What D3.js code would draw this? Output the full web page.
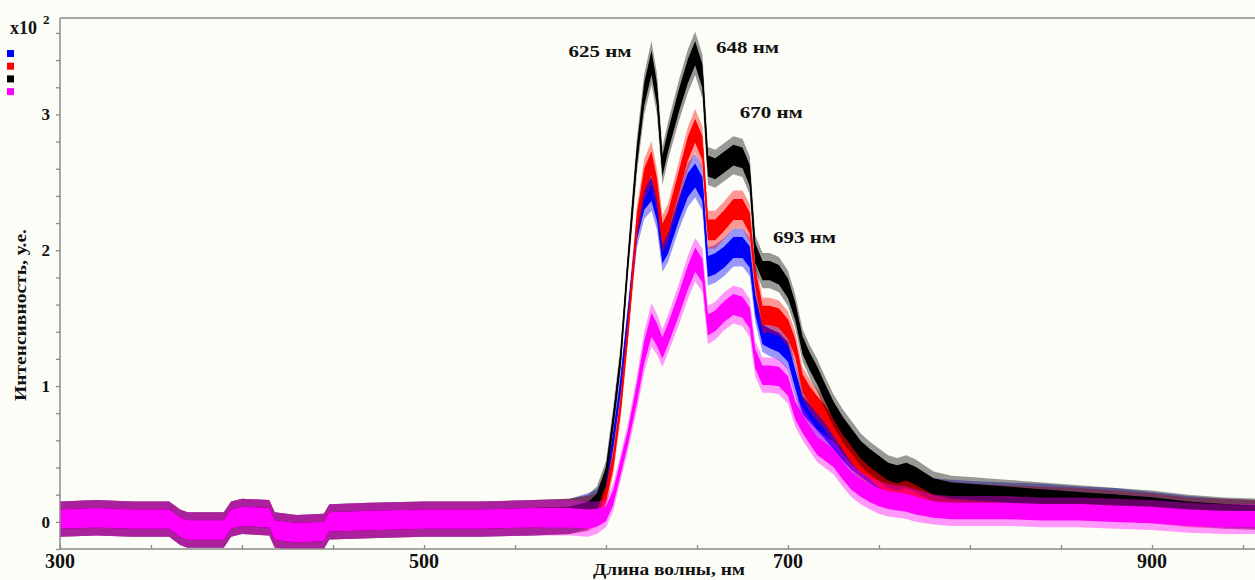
<!DOCTYPE html>
<html><head><meta charset="utf-8">
<script src="https://cdn.jsdelivr.net/npm/d3@7/dist/d3.min.js"></script>
<style>
html,body{margin:0;padding:0;background:#fdfdf7;}
svg{display:block;}
text{font-family:"Liberation Serif","Times New Roman",Times,serif;font-weight:bold;fill:#111;}
</style></head>
<body>
<svg id="chart" width="1255" height="580"></svg>
<script>
// Wavelengths (nm)
const wavelengths = [300,320,340,360,366,370,390,394,400,415,418,430,445,448,470,500,530,560,580,
  590,595,600,604,608,612,617,621,625,628,631,634,640,645,649,653,656,660,665,670,
  675,679,682,686,690,695,700,704,708,712,716,720,725,730,735,740,745,750,755,760,
  765,770,780,790,800,820,840,860,880,900,920,940,960];

// Intensity (x10^2, a.u.) – series
const blueValues = [0.02,0.03,0.02,0.02,-0.04,-0.06,-0.06,0.02,0.04,0.03,-0.06,-0.08,-0.07,0.0,0.01,0.02,0.02,0.03,0.04,
  0.08,0.12,0.28,0.6,1.0,1.5,2.15,2.38,2.45,2.3,1.98,2.05,2.3,2.48,2.55,2.45,1.88,1.9,1.95,2.02,
  2.02,1.95,1.6,1.38,1.35,1.32,1.25,1.05,0.86,0.8,0.74,0.68,0.6,0.52,0.45,0.4,0.35,0.3,0.27,0.26,
  0.27,0.25,0.21,0.2,0.19,0.18,0.17,0.15,0.14,0.11,0.08,0.06,0.05];
const redValues = [0.02,0.03,0.02,0.02,-0.04,-0.06,-0.06,0.02,0.04,0.03,-0.06,-0.08,-0.07,0.0,0.01,0.02,0.02,0.03,0.04,
  0.06,0.09,0.2,0.45,0.85,1.4,2.2,2.52,2.64,2.45,2.12,2.2,2.5,2.75,2.88,2.75,2.15,2.15,2.22,2.3,
  2.3,2.2,1.8,1.52,1.52,1.5,1.42,1.28,1.02,0.93,0.86,0.8,0.7,0.6,0.5,0.43,0.38,0.32,0.27,0.24,
  0.25,0.24,0.19,0.18,0.17,0.16,0.15,0.14,0.12,0.1,0.07,0.06,0.05];
const blackValues = [0.02,0.03,0.02,0.02,-0.04,-0.06,-0.06,0.02,0.04,0.03,-0.06,-0.08,-0.07,0.0,0.01,0.02,0.02,0.03,0.04,
  0.07,0.14,0.35,0.75,1.2,1.9,2.7,3.15,3.38,3.15,2.62,2.8,3.1,3.32,3.45,3.28,2.62,2.6,2.65,2.7,
  2.68,2.55,1.98,1.85,1.85,1.82,1.72,1.55,1.3,1.18,1.08,0.96,0.82,0.71,0.62,0.53,0.47,0.42,0.37,0.35,
  0.37,0.34,0.26,0.23,0.22,0.2,0.18,0.16,0.14,0.12,0.09,0.07,0.06];
const magentaValues = [0.02,0.03,0.02,0.02,-0.04,-0.06,-0.06,0.02,0.04,0.03,-0.06,-0.08,-0.07,0.0,0.01,0.02,0.02,0.03,0.03,
  0.02,0.03,0.06,0.18,0.4,0.62,0.95,1.25,1.45,1.38,1.28,1.38,1.6,1.8,1.93,1.85,1.45,1.48,1.55,1.6,
  1.58,1.5,1.2,1.08,1.08,1.07,1.0,0.82,0.72,0.64,0.56,0.52,0.47,0.38,0.3,0.25,0.21,0.18,0.16,0.15,
  0.14,0.12,0.09,0.08,0.08,0.08,0.07,0.07,0.06,0.05,0.03,0.02,0.02];
// Noise half-width of the traces (same units)
const noiseValues = [0.13,0.13,0.13,0.13,0.13,0.13,0.13,0.13,0.13,0.13,0.13,0.13,0.13,0.13,0.13,0.13,0.13,0.13,0.13,
  0.13,0.12,0.1,0.1,0.1,0.1,0.13,0.15,0.16,0.15,0.14,0.14,0.15,0.16,0.16,0.16,0.14,0.14,0.14,0.14,
  0.14,0.14,0.13,0.13,0.13,0.13,0.13,0.12,0.12,0.12,0.12,0.12,0.12,0.12,0.12,0.12,0.12,0.12,0.12,0.12,
  0.12,0.12,0.11,0.11,0.11,0.11,0.11,0.11,0.11,0.11,0.11,0.11,0.11];

const seriesNames = ["blue","red","black","magenta"];
const seriesColors = ["#0000ff","#ff0000","#000000","#ff00ff"];
const seriesValues = [blueValues, redValues, blackValues, magentaValues];

const yTickLabels = [0,1,2,3];
const xTickLabels = [300,500,700,900];
const peakLabels = ["625 нм","648 нм","670 нм","693 нм"];
const peakAnchorsNm = [614,660.5,673.5,691.8];
const peakAnchorsVal = [3.42,3.45,2.97,2.05];

const svg = d3.select("#chart");
const W = 1255, H = 580;
svg.append("rect").attr("width",W).attr("height",H).attr("fill","#fdfdf7");

const x = d3.scaleLinear().domain([300, 956.6]).range([60, 1255]);
const y = d3.scaleLinear().domain([-0.2, 3.71]).range([549, 18]);

svg.append("defs").append("clipPath").attr("id","clip")
  .append("rect").attr("x",60).attr("y",18).attr("width",W-60).attr("height",531);

const plot = svg.append("g").attr("clip-path","url(#clip)");

seriesValues.forEach((vals, si) => {
  const pts = wavelengths.map((w,i)=>({w, v: vals[i], n: noiseValues[i]}));
  const outer = d3.area().x(d=>x(d.w)).y0(d=>y(d.v - d.n)).y1(d=>y(d.v + d.n));
  const inner = d3.area().x(d=>x(d.w)).y0(d=>y(d.v - d.n*0.55)).y1(d=>y(d.v + d.n*0.55));
  plot.append("path").datum(pts).attr("d",outer).attr("fill",seriesColors[si]).attr("opacity",0.4);
  plot.append("path").datum(pts).attr("d",inner).attr("fill",seriesColors[si]);
  plot.append("path").datum(pts)
    .attr("d", d3.line().x(d=>x(d.w)).y(d=>y(d.v)))
    .attr("fill","none").attr("stroke",seriesColors[si]).attr("stroke-width",1.6);
});

// Axes
const axisColor = "#8a8a8a";
svg.append("line").attr("x1",60).attr("x2",W).attr("y1",18).attr("y2",18).attr("stroke",axisColor).attr("stroke-width",1.5);
svg.append("line").attr("x1",60).attr("x2",60).attr("y1",18).attr("y2",549).attr("stroke",axisColor).attr("stroke-width",1.5);
svg.append("line").attr("x1",60).attr("x2",W).attr("y1",549).attr("y2",549).attr("stroke",axisColor).attr("stroke-width",1.5);

// x ticks (inward, every 50)
const gx = svg.append("g").attr("transform","translate(0,549)")
  .call(d3.axisBottom(x).tickValues(d3.range(300, 957, 50)).tickSize(-4).tickFormat(""));
gx.select(".domain").remove();
gx.selectAll("line").attr("stroke",axisColor).attr("stroke-width",1.3);
svg.append("g").selectAll("text").data(xTickLabels).join("text")
  .attr("x", d=>x(d)).attr("y", 568).attr("text-anchor","middle")
  .attr("font-size",20).text(d=>d);

// y ticks (outward, every 0.2)
const gy = svg.append("g").attr("transform","translate(60,0)")
  .call(d3.axisLeft(y).tickValues(d3.range(-0.2, 3.71, 0.2)).tickSize(4).tickFormat(""));
gy.select(".domain").remove();
gy.selectAll("line").attr("stroke",axisColor).attr("stroke-width",1.3);
svg.append("g").selectAll("text").data(yTickLabels).join("text")
  .attr("x", 50).attr("y", d=>y(d)+6).attr("text-anchor","end")
  .attr("font-size",17).text(d=>d);

// axis titles
svg.append("text").attr("x",669).attr("y",575).attr("text-anchor","middle")
  .attr("font-size",17).attr("textLength",152).attr("lengthAdjust","spacingAndGlyphs")
  .text("Длина волны, нм");
svg.append("text").attr("transform","translate(26,315) rotate(-90)").attr("text-anchor","middle")
  .attr("font-size",16).attr("textLength",172).attr("lengthAdjust","spacingAndGlyphs")
  .text("Интенсивность, у.е.");

// x10^2
svg.append("text").attr("x",10).attr("y",34).attr("font-size",18).text("x10");
svg.append("text").attr("x",43).attr("y",24).attr("font-size",13).text("2");

// legend squares
seriesColors.forEach((c,i)=>{
  svg.append("rect").attr("x",7).attr("y",50 + i*12.7).attr("width",7).attr("height",7).attr("fill",c);
});

// peak labels
svg.append("g").selectAll("text").data(peakLabels).join("text")
  .attr("x",(d,i)=> x(peakAnchorsNm[i]))
  .attr("y",(d,i)=>y(peakAnchorsVal[i]))
  .attr("text-anchor",(d,i)=> i===0 ? "end" : "start")
  .attr("font-size",17).attr("textLength",63).attr("lengthAdjust","spacingAndGlyphs")
  .text(d=>d);
</script>
</body></html>
